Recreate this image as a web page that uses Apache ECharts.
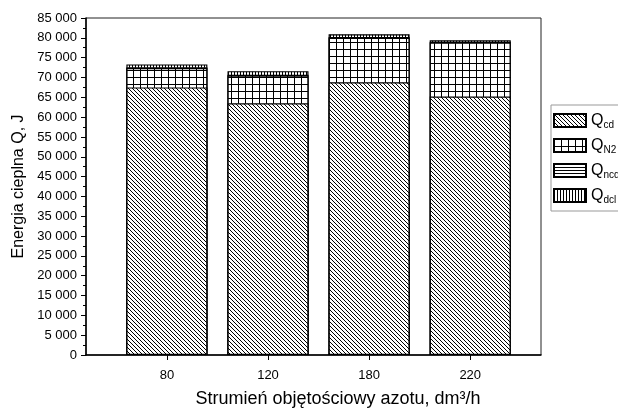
<!DOCTYPE html>
<html>
<head>
<meta charset="utf-8">
<script src="https://cdn.jsdelivr.net/npm/echarts@6/dist/echarts.min.js"></script>
<style>
  html, body { margin: 0; padding: 0; background: #fff; }
  #chart { width: 618px; height: 409px; }
</style>
</head>
<body>
<div id="chart"></div>
<script>
// strumień azotu, dm3/h
const categories = ['80', '120', '180', '220']
const qcd = [67500, 63500, 68800, 65200]
const qn2 = [4900, 7000, 11200, 13600]
const qncd = [200, 200, 200, 200]
const qdcl = [700, 900, 700, 400]
const seriesNames = ['cd', 'N2', 'ncd', 'dcl']

const makePattern = (w, h, draw) => {
  const c = document.createElement('canvas')
  c.width = w
  c.height = h
  const ctx = c.getContext('2d')
  ctx.fillStyle = '#fff'
  ctx.fillRect(0, 0, w, h)
  ctx.strokeStyle = '#000'
  ctx.lineWidth = 1
  ctx.beginPath()
  draw(ctx, w, h)
  ctx.stroke()
  return { image: c, repeat: 'repeat' }
}

const patterns = [
  // ukośne \\\\
  makePattern(4, 4, (ctx, s) => {
    for (const k of [-1, 0, 1]) {
      ctx.moveTo(k * s, 0)
      ctx.lineTo(k * s + s, s)
    }
  }),
  // kratka
  makePattern(7, 7, (ctx, w, h) => {
    ctx.moveTo(0.5, 0); ctx.lineTo(0.5, h)
    ctx.moveTo(0, 0.5); ctx.lineTo(w, 0.5)
  }),
  // poziome
  makePattern(4, 3, (ctx, w) => {
    ctx.moveTo(0, 0.5); ctx.lineTo(w, 0.5)
  }),
  // pionowe
  makePattern(3, 4, (ctx, w, h) => {
    ctx.moveTo(0.5, 0); ctx.lineTo(0.5, h)
  })
]

const values = [qcd, qn2, qncd, qdcl]
const positions = categories.map((c, i) => i + 1)
// słupki skumulowane: każda warstwa rysowana od zera do sumy, wyższe pod niższymi
const cumulative = values.map((v, si) =>
  positions.map((p, i) => values.slice(0, si + 1).reduce((s, arr) => s + arr[i], 0))
)

const chart = echarts.init(document.getElementById('chart'), null, { renderer: 'canvas' })
const font = 'Liberation Sans, Arial, sans-serif'

chart.setOption({
  animation: false,
  backgroundColor: '#fff',
  textStyle: { fontFamily: font, color: '#000' },
  grid: {
    left: 86, right: 77, top: 18, bottom: 54,
    outerBoundsMode: 'none',
    show: true, borderColor: '#222', borderWidth: 1
  },
  legend: {
    orient: 'vertical',
    left: 551, top: 105,
    icon: 'rect',
    itemWidth: 32, itemHeight: 13, itemGap: 6,
    padding: [6, 4, 6, 2],
    borderColor: '#999', borderWidth: 1,
    backgroundColor: '#fff',
    data: seriesNames.map(n => 'Q' + n),
    formatter: name => '{q|Q}{s|' + name.slice(1) + '}',
    textStyle: {
      rich: {
        q: { fontSize: 16, lineHeight: 18, fontFamily: font, color: '#000' },
        s: { fontSize: 10, lineHeight: 10, padding: [9, 0, 0, 0], fontFamily: font, color: '#000' }
      }
    }
  },
  xAxis: {
    type: 'value',
    min: 0.2, max: 4.7,
    name: 'Strumień objętościowy azotu, dm³/h',
    nameLocation: 'middle',
    nameGap: 35,
    nameTextStyle: { fontSize: 18, fontFamily: font, color: '#000', padding: [0, 0, 0, 49] },
    axisLine: { lineStyle: { color: '#000', width: 1.5 } },
    axisTick: { show: true, length: 5, customValues: positions, lineStyle: { color: '#000' } },
    axisLabel: {
      customValues: positions,
      margin: 14, fontSize: 13, color: '#000', fontFamily: font,
      formatter: v => categories[Math.round(v) - 1] || ''
    },
    splitLine: { show: false }
  },
  yAxis: {
    type: 'value',
    min: 0, max: 85000, interval: 5000,
    name: 'Energia cieplna Q, J',
    nameLocation: 'middle',
    nameGap: 57,
    nameTextStyle: { fontSize: 16, fontFamily: font, color: '#000' },
    axisLine: { show: true, lineStyle: { color: '#000', width: 1.5 } },
    axisTick: { show: true, length: 5, lineStyle: { color: '#000' } },
    minorTick: { show: true, splitNumber: 2, length: 3, lineStyle: { color: '#000' } },
    axisLabel: {
      margin: 9, fontSize: 13, color: '#000', fontFamily: font,
      formatter: v => String(v).replace(/\B(?=(\d{3})+(?!\d))/g, ' ')
    },
    splitLine: { show: false }
  },
  series: seriesNames.map((n, si) => ({
    name: 'Q' + n,
    type: 'bar',
    barWidth: 81,
    barGap: '-100%',
    z: 10 - si,
    data: positions.map((p, i) => [p, cumulative[si][i]]),
    itemStyle: { color: patterns[si], borderColor: '#000', borderWidth: 1.2 }
  }))
})
</script>
</body>
</html>
